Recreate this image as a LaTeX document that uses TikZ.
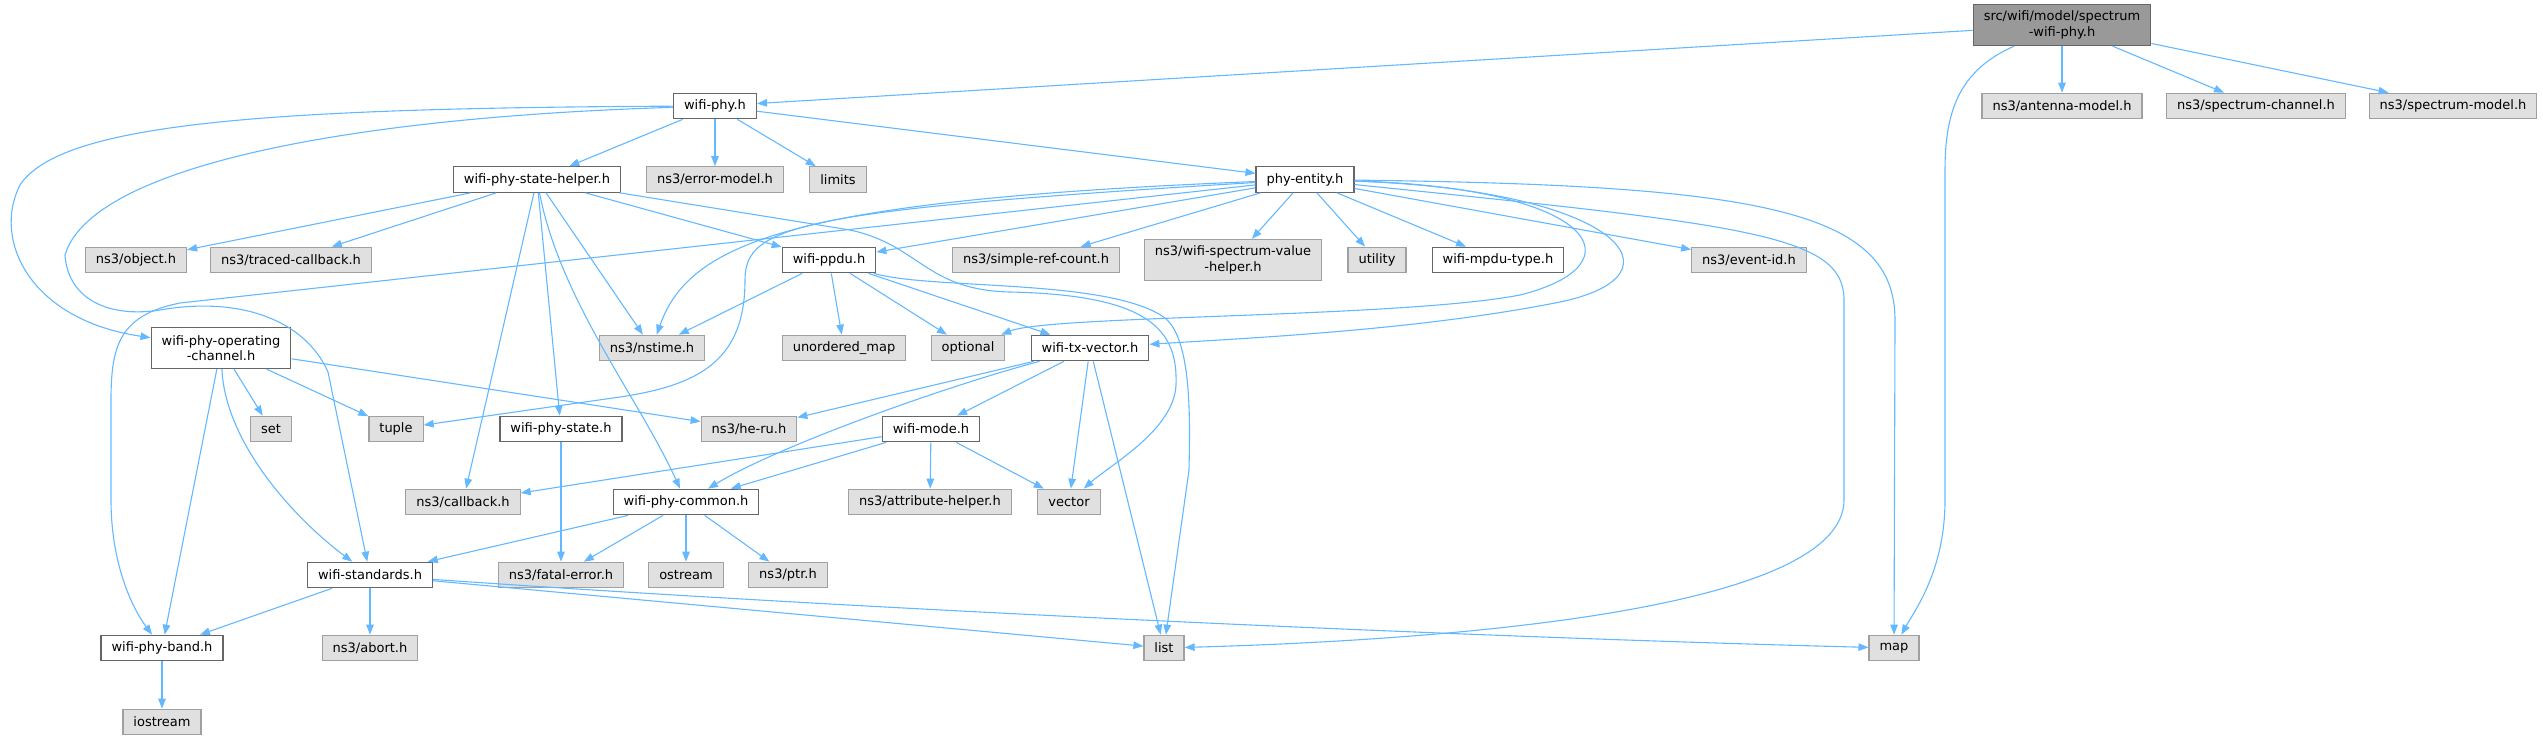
\documentclass[tikz,border=0pt]{standalone}
\usepackage{fontspec}
\setmainfont{DejaVu Sans}
\usetikzlibrary{arrows.meta}
\definecolor{depblue}{HTML}{63B8FF}
\definecolor{sysgrey}{HTML}{E0E0E0}
\definecolor{sysline}{HTML}{A0A0A0}
\definecolor{fileline}{HTML}{666666}
\definecolor{rootgrey}{HTML}{999999}

\begin{document}
\begin{tikzpicture}[x=1pt,y=-1pt,
    font=\fontsize{13}{15.5}\selectfont,
    hbox/.style={rectangle, inner xsep=10.5pt, inner ysep=3pt, minimum height=25.5pt, line width=1.2pt, align=center},
    file/.style={hbox, fill=white, draw=fileline},
    sys/.style={hbox, fill=sysgrey, draw=sysline},
    root/.style={hbox, fill=rootgrey, draw=fileline},
    tall/.style={minimum height=41pt},
    dep/.style={draw=depblue, line width=1.1pt, -{Triangle[length=10pt,width=7.5pt]}}]
        \useasboundingbox (0,0) rectangle (2543,740);

        \node[root,tall] (top) at (2062,25) {src/wifi/model/spectrum\\-wifi-phy.h}; %spectrum_wifi_phy

        \node[file] (wifiphy) at (715,106) {wifi-phy.h}; %wifi_phy
        \node[sys] (antenna) at (2062,106) {ns3/antenna-model.h};
        \node[sys] (specchan) at (2256,106) {ns3/spectrum-channel.h};
        \node[sys] (specmodel) at (2453,106) {ns3/spectrum-model.h};

        \node[file] (statehelper) at (537,179.5) {wifi-phy-state-helper.h}; %state_helper
        \node[sys] (errmodel) at (715,179.5) {ns3/error-model.h};
        \node[sys] (limits) at (838,179.5) {limits};
        \node[file] (phyentity) at (1305,179.5) {phy-entity.h}; %phy_entity

        \node[sys] (object) at (136,260) {ns3/object.h};
        \node[sys] (traced) at (291,260) {ns3/traced-callback.h};
        \node[file] (ppdu) at (829,260) {wifi-ppdu.h}; %ppdu
        \node[sys] (simpleref) at (1036,260) {ns3/simple-ref-count.h};
        \node[sys,tall] (specvalue) at (1233,260) {ns3/wifi-spectrum-value\\-helper.h};
        \node[sys] (utility) at (1377,260) {utility};
        \node[file] (mpdutype) at (1498,260) {wifi-mpdu-type.h};
        \node[sys] (eventid) at (1749,260) {ns3/event-id.h};

        \node[file,tall] (opchan) at (221,348) {wifi-phy-operating\\-channel.h}; %operating_channel
        \node[sys] (nstime) at (652,348) {ns3/nstime.h};
        \node[sys] (unordered) at (844,348) {unordered\_map};
        \node[sys] (optional) at (968,348) {optional};
        \node[file] (txvector) at (1090,348) {wifi-tx-vector.h}; %tx_vector

        \node[sys] (set) at (271,429) {set};
        \node[sys] (tuple) at (396,429) {tuple};
        \node[file] (phystate) at (561,429) {wifi-phy-state.h};
        \node[sys] (heru) at (749,429) {ns3/he-ru.h};
        \node[file] (wifimode) at (931,429) {wifi-mode.h}; %wifi_mode

        \node[sys] (callback) at (463,502) {ns3/callback.h};
        \node[file] (common) at (686,502) {wifi-phy-common.h}; %common
        \node[sys] (attrhelper) at (930,502) {ns3/attribute-helper.h};
        \node[sys] (vector) at (1069,502) {vector};

        \node[file] (standards) at (370,575) {wifi-standards.h}; %standards
        \node[sys] (fatal) at (561,575) {ns3/fatal-error.h};
        \node[sys] (ostream) at (686,575) {ostream};
        \node[sys] (ptr) at (788,575) {ns3/ptr.h};

        \node[file] (band) at (162,648) {wifi-phy-band.h}; %band
        \node[sys] (abort) at (370,648) {ns3/abort.h};
        \node[sys] (list) at (1164,648) {list};
        \node[sys] (map) at (1894,648) {map};

        \node[sys] (iostream) at (162,722) {iostream};

        % spectrum-wifi-phy.h
        \draw[dep] (top) -- (wifiphy);
        \draw[dep] (top) .. controls (1960,70) and (1945,110) .. (1945,170) -- (1945,500) .. controls (1945,570) and (1915,610) .. (map);
        \draw[dep] (top) -- (antenna);
        \draw[dep] (top) -- (specchan);
        \draw[dep] (top) -- (specmodel);

        % wifi-phy.h
        \draw[dep] (wifiphy) -- (statehelper);
        \draw[dep] (wifiphy) -- (errmodel);
        \draw[dep] (wifiphy) -- (limits);
        \draw[dep] (wifiphy) -- (phyentity);
        \draw[dep] (wifiphy) .. controls (250,108) and (60,125) .. (20,185) .. controls (-8,240) and (30,320) .. (opchan);
        \draw[dep] (wifiphy) .. controls (330,118) and (90,170) .. (65,255) .. controls (68,300) and (110,318) .. (160,310) .. controls (240,296) and (305,320) .. (328,372) -- (standards);

        % phy-entity.h
        \draw[dep] (phyentity) -- (ppdu);
        \draw[dep] (phyentity) -- (simpleref);
        \draw[dep] (phyentity) -- (specvalue);
        \draw[dep] (phyentity) -- (utility);
        \draw[dep] (phyentity) -- (mpdutype);
        \draw[dep] (phyentity) -- (eventid);
        \draw[dep] (phyentity) .. controls (800,200) and (690,240) .. (nstime);
        \draw[dep] (phyentity) .. controls (800,210) and (745,225) .. (745,280) .. controls (745,360) and (700,385) .. (620,397) -- (tuple);
        \draw[dep] (phyentity) -- (180,303) .. controls (120,315) and (111,345) .. (111,400) -- (111,500) .. controls (111,560) and (130,605) .. (band);
        \draw[dep] (phyentity) .. controls (1600,188) and (1640,265) .. (1520,295) .. controls (1400,318) and (1050,315) .. (optional);
        \draw[dep] (phyentity) .. controls (1620,190) and (1690,275) .. (1560,302) .. controls (1420,330) and (1250,338) .. (txvector);
        \draw[dep] (phyentity) .. controls (1750,225) and (1844,235) .. (1844,300) -- (1844,500) .. controls (1844,610) and (1450,640) .. (list);
        \draw[dep] (phyentity) .. controls (1760,185) and (1895,210) .. (1895,320) -- (map);

        % wifi-phy-state-helper.h
        \draw[dep] (statehelper) -- (object);
        \draw[dep] (statehelper) -- (traced);
        \draw[dep] (statehelper) -- (callback);
        \draw[dep] (statehelper) -- (phystate);
        \draw[dep] (statehelper) -- (nstime);
        \draw[dep] (statehelper) .. controls (560,300) and (640,400) .. (common);
        \draw[dep] (statehelper) -- (ppdu);
        \draw[dep] (statehelper) -- (850,230) .. controls (920,245) and (925,290) .. (1010,292) .. controls (1150,295) and (1178,330) .. (1176,385) .. controls (1174,430) and (1110,465) .. (vector);

        % wifi-ppdu.h
        \draw[dep] (ppdu) -- (nstime);
        \draw[dep] (ppdu) -- (unordered);
        \draw[dep] (ppdu) -- (optional);
        \draw[dep] (ppdu) -- (txvector);
        \draw[dep] (ppdu) .. controls (930,290) and (1110,278) .. (1165,318) .. controls (1192,340) and (1190,420) .. (1189,470) -- (list);

        % wifi-tx-vector.h
        \draw[dep] (txvector) -- (heru);
        \draw[dep] (txvector) .. controls (950,385) and (780,445) .. (common);
        \draw[dep] (txvector) -- (wifimode);
        \draw[dep] (txvector) -- (vector);
        \draw[dep] (txvector) -- (list);

        % wifi-mode.h
        \draw[dep] (wifimode) -- (callback);
        \draw[dep] (wifimode) -- (common);
        \draw[dep] (wifimode) -- (attrhelper);
        \draw[dep] (wifimode) -- (vector);

        % wifi-phy-common.h
        \draw[dep] (common) -- (standards);
        \draw[dep] (common) -- (fatal);
        \draw[dep] (common) -- (ostream);
        \draw[dep] (common) -- (ptr);
        \draw[dep] (phystate) -- (fatal);

        % wifi-phy-operating-channel.h
        \draw[dep] (opchan) -- (set);
        \draw[dep] (opchan) -- (tuple);
        \draw[dep] (opchan) -- (heru);
        \draw[dep] (opchan) .. controls (225,440) and (290,515) .. (standards);
        \draw[dep] (opchan) -- (band);

        % wifi-standards.h
        \draw[dep] (standards) -- (band);
        \draw[dep] (standards) -- (abort);
        \draw[dep] (standards) -- (list);
        \draw[dep] (standards) .. controls (900,612) and (1500,638) .. (map);
        \draw[dep] (band) -- (iostream);
    \end{tikzpicture}
\end{document}
